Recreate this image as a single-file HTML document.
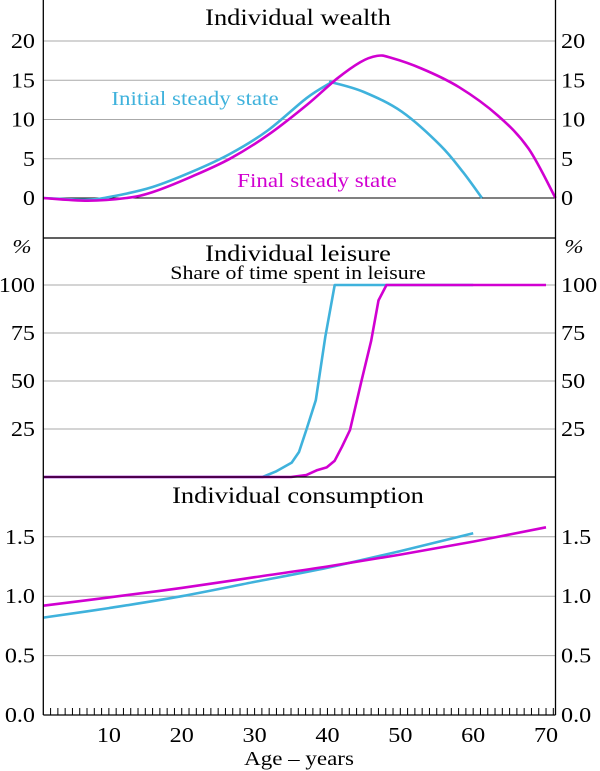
<!DOCTYPE html>
<html><head><meta charset="utf-8">
<style>
body{margin:0;background:#fff;}
svg{display:block;font-family:"Liberation Serif",serif;}
</style></head>
<body>
<svg id="c" width="600" height="771" viewBox="0 0 600 771" xmlns="http://www.w3.org/2000/svg"></svg>
<script>
const wealthAgesInit=[1,7.1,10.8,16,21.3,26.6,31.8,37.1,40.3,40.7,45,50.2,55.5,58.6,61.2];
const wealthInit=[0,-0.2,0.25,1.4,3.3,5.6,8.6,12.7,14.6,14.7,13.5,11,6.7,3.3,0];
const wealthAgesFinal=[1,7.1,12.4,16,21.3,26.6,31.8,37.1,41.3,44.5,46.8,48.6,52.9,58.1,63.4,67.6,71.3];
const wealthFinal=[0,-0.35,0,0.75,2.7,5,8,11.8,15.2,17.3,18.1,17.9,16.5,14.1,10.5,6.3,0];
const leisureAgesInit=[1,31.1,32.9,35.1,36.1,37.1,38.4,39.7,41,60];
const leisureInit=[0,0,2.8,7.5,13,24.5,40,73,100,100];
const leisureAgesFinal=[1,35,37.1,38.6,39.9,41,42,43.1,44.6,46,47,48.1,70];
const leisureFinal=[0,0,1,3.6,5,8.5,15.8,24.5,49,71,92,100,100];
const consAgesInit=[1,10,20,30,40,50,60];
const consInit=[0.82,0.90,1.00,1.12,1.24,1.38,1.53];
const consAgesFinal=[1,10,20,30,40,50,60,70];
const consFinal=[0.92,0.99,1.07,1.16,1.25,1.35,1.46,1.58];
const xTicks=[10,20,30,40,50,60,70];
const wTicks=[0,5,10,15,20];
const lTicks=[25,50,75,100];
const cTicks=[0.0,0.5,1.0,1.5];

const NS="http://www.w3.org/2000/svg";
const svg=document.getElementById('c');
const L=43.3,R=555.5,SX=1.15;
const X=a=>L+(a-1)*(R-L)/70.3;
const Yw=v=>198-v*7.85;
const Yl=v=>477-v*1.92;
const Yc=v=>715-v*118.8;
const BLUE="#3fb2dc",MAG="#d100d1";
function el(t,a,txt){const e=document.createElementNS(NS,t);for(const k in a)e.setAttribute(k,a[k]);if(txt!==undefined)e.textContent=txt;svg.appendChild(e);return e;}
function T(x,y,s,size,anchor,extra){
const a=Object.assign({x:0,y:0,'text-anchor':anchor,'font-size':size,transform:'translate('+x+','+y+') scale('+SX+',1)'},extra||{});
return el('text',a,s);}
function grid(y,name,col){const g=el('line',{x1:L,x2:R,y1:y,y2:y,stroke:col||'#aaa','stroke-width':1});

}
function lbl(y,t,name){
const a=T(35,y+7,t,21,'end');


const b=T(561,y+7,t,21,'start');

}
wTicks.forEach(v=>{if(v!==0)grid(Yw(v),'wealth-gridline');lbl(Yw(v),String(v),'wealth-tick');});
grid(Yw(0),'wealth-zero-line','#000');
lTicks.forEach(v=>{grid(Yl(v),'leisure-gridline');lbl(Yl(v),String(v),'leisure-tick');});
cTicks.forEach(v=>{if(v!==0)grid(Yc(v),'consumption-gridline');lbl(Yc(v),v.toFixed(1),'consumption-tick');});
function line(ages,vals,Y,col,name,smooth){
const P=ages.map((a,i)=>[X(a),Y(vals[i])]);
let d='M'+P[0][0].toFixed(1)+' '+P[0][1].toFixed(1);
for(let i=0;i<P.length-1;i++){
if(!smooth){d+=' L'+P[i+1][0].toFixed(1)+' '+P[i+1][1].toFixed(1);continue;}
const p0=P[i-1]||P[i],p1=P[i],p2=P[i+1],p3=P[i+2]||P[i+1];
const c1=[p1[0]+(p2[0]-p0[0])/6,p1[1]+(p2[1]-p0[1])/6];
const c2=[p2[0]-(p3[0]-p1[0])/6,p2[1]-(p3[1]-p1[1])/6];
d+=' C'+c1.map(v=>v.toFixed(1)).join(' ')+' '+c2.map(v=>v.toFixed(1)).join(' ')+' '+p2[0].toFixed(1)+' '+p2[1].toFixed(1);}
const p=el('path',{d:d,fill:'none',stroke:col,'stroke-width':2.6,'stroke-linejoin':'round'});

}
line(wealthAgesInit,wealthInit,Yw,BLUE,'wealth-initial-line',true);
line(wealthAgesFinal,wealthFinal,Yw,MAG,'wealth-final-line',true);
line(leisureAgesInit,leisureInit,Yl,BLUE,'leisure-initial-line',false);
line(leisureAgesFinal,leisureFinal,Yl,MAG,'leisure-final-line',false);
line(consAgesInit,consInit,Yc,BLUE,'consumption-initial-line',true);
line(consAgesFinal,consFinal,Yc,MAG,'consumption-final-line',true);
[[L,0,L,715],[R,0,R,715],[L,238,R,238],[L,477,R,477],[L,715,R,715]].forEach(s=>{
const f=el('line',{x1:s[0],y1:s[1],x2:s[2],y2:s[3],stroke:'#000','stroke-width':1.3});

});
for(let a=2;a<=71;a++){
const t=el('line',{x1:X(a),x2:X(a),y1:715,y2:708,stroke:'#000','stroke-width':1});

}
xTicks.forEach(a=>{
const t=T(X(a),742,String(a),21,'middle');

});
function txt(x,y,s,name,size,extra){
const t=T(x,y,s,size,'middle',extra);

}
txt(299,765,'Age – years','x-axis-title',20);
txt(298,25,'Individual wealth','wealth-title',23);
txt(298,261,'Individual leisure','leisure-title',23);
txt(298,279,'Share of time spent in leisure','leisure-subtitle',19);
txt(298,503,'Individual consumption','consumption-title',23);
txt(22,253,'%','leisure-unit-left',20,{'font-style':'italic'});
txt(574,253,'%','leisure-unit-right',20,{'font-style':'italic'});
txt(195,105,'Initial steady state','initial-legend-label',20,{fill:BLUE});
txt(317,187,'Final steady state','final-legend-label',20,{fill:MAG});
</script>
</body></html>
